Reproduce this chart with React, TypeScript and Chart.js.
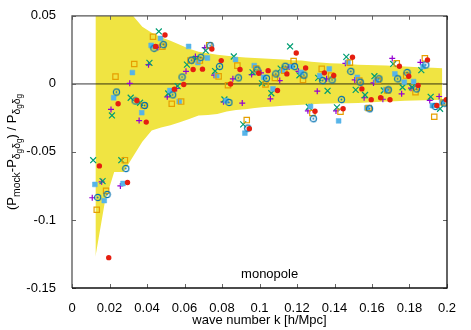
import React, { useEffect, useRef } from "react";
import { Chart, registerables } from "chart.js";

Chart.register(...registerables);

// k bins (h/Mpc)
const kBins = [
  0.0125, 0.0175, 0.0225, 0.0275, 0.0325, 0.0375, 0.0425, 0.0475, 0.0525, 0.0575,
  0.0625, 0.0675, 0.0725, 0.0775, 0.0825, 0.0875, 0.0925, 0.0975, 0.1025, 0.1075,
  0.1125, 0.1175, 0.1225, 0.1275, 0.1325, 0.1375, 0.1425, 0.1475, 0.1525, 0.1575,
  0.1625, 0.1675, 0.1725, 0.1775, 0.1825, 0.1875, 0.1925, 0.1975,
];

// small k shift of each mock series relative to the bins
const kShift = { purple: -0.0017, green: -0.0012, lightBlue: -0.0003, orange: 0.0007, circle: 0.0012, red: 0.0021 };

// band of the mock scatter
const bandUpper = [
  0.1, 0.085, 0.07, 0.058, 0.05, 0.042, 0.0376, 0.0343, 0.0317, 0.0288,
  0.0258, 0.0236, 0.0225, 0.0214, 0.0207, 0.02, 0.0194, 0.019, 0.0187, 0.0183,
  0.0178, 0.0174, 0.0171, 0.0163, 0.0156, 0.0152, 0.0149, 0.0145, 0.0141, 0.0139,
  0.0137, 0.0134, 0.0132, 0.0128, 0.0124, 0.0121, 0.0118, 0.0114,
];
const bandLower = [
  -0.127, -0.087, -0.0647, -0.0647, -0.0536, -0.0426, -0.0342, -0.032, -0.0305, -0.0283,
  -0.0258, -0.0232, -0.0228, -0.0221, -0.0203, -0.0193, -0.0186, -0.0177, -0.0171, -0.0166,
  -0.0161, -0.0157, -0.0153, -0.0149, -0.0146, -0.0144, -0.0143, -0.0142, -0.0141, -0.0137,
  -0.0133, -0.013, -0.0127, -0.0124, -0.0122, -0.0121, -0.0119, -0.0117,
];

// series values
const purpleVals = [
  -0.0837, -0.072, -0.0188, -0.075, 0.0004, -0.027, 0.0141, 0.0268, -0.0095, -0.0034,
  0.0092, 0.0201, 0.0266, 0.0064, -0.0132, 0.0037, -0.0141, 0.0068, 0.0081, -0.011,
  0.0024, 0.0123, 0.0092, -0.0198, -0.0054, 0.0037, -0.0199, 0.0151, 0.0029, -0.0102,
  0.0007, -0.0113, 0.0187, -0.0073, -0.0032, 0.0158, -0.0122, -0.0093,
];
const greenVals = [
  -0.0561, -0.0715, -0.0232, -0.0561, -0.0102, -0.0139, 0.0154, 0.0385, -0.0071, -0.0016,
  0.0141, 0.0185, 0.0244, 0.0094, -0.0115, 0.0201, -0.0298, 0.0085, 0.0004, -0.0069,
  0.0112, 0.0275, 0.0063, -0.017, 0.0044, -0.0051, -0.0173, 0.0198, -0.0044, -0.0082,
  0.0056, -0.0049, 0.0146, -0.0025, -0.0025, 0.0101, -0.0095, -0.0183,
];
const lightBlueVals = [
  -0.0739, -0.0858, -0.0102, -0.0732, 0.0083, -0.0212, 0.0283, 0.0334, -0.0049, -0.013,
  0.0275, 0.0156, 0.019, 0.0061, -0.0124, 0.0178, -0.0362, 0.0134, 0.0048, -0.0037,
  0.0097, 0.0129, 0.0085, -0.0166, 0.0061, 0.011, -0.0272, 0.0158, 0.0048, -0.0177,
  0.0024, -0.0042, 0.0073, 0.0012, 0.0017, 0.0127, -0.0159, -0.0135,
];
const orangeVals = [
  -0.0925, -0.0786, 0.0053, -0.0561, 0.0146, -0.0159, 0.0346, 0.0273, -0.0146, -0.013,
  0.0171, 0.0171, 0.0284, 0.0055, -0.001, 0.0134, -0.0266, 0.0112, -0.0005, 0.0044,
  0.0097, 0.0168, 0.0029, -0.0214, 0.011, 0.0061, -0.0205, 0.0156, 0.0024, -0.0177,
  0.0024, -0.0049, 0.0151, 0.0061, -0.0061, 0.0187, -0.0242, -0.0137,
];
const circleVals = [
  -0.0835, -0.0813, -0.006, -0.0622, -0.0126, -0.0159, 0.0262, 0.0288, -0.0081, 0.005,
  0.0174, 0.0195, 0.028, 0.0128, -0.0137, 0.0044, -0.0325, 0.0102, 0.0041, 0.0073,
  0.0129, 0.0127, 0.0064, -0.0256, 0.0024, 0.0029, -0.0115, 0.0092, 0.0012, -0.0183,
  0.0037, -0.0044, 0.0037, 0.0083, -0.0037, 0.0139, -0.0166, -0.0142,
];
const redVals = [
  -0.0603, -0.1277, -0.0146, -0.0725, -0.0122, -0.0281, 0.0275, 0.0359, -0.004, -0.0005,
  0.0105, 0.0108, 0.0256, 0.0171, -0.0001, 0.0105, -0.0329, 0.0078, 0.0097, -0.0049,
  0.0073, 0.0227, 0.0117, -0.0201, 0.0081, 0.0061, -0.0183, 0.0195, -0.0037, -0.0116,
  -0.0102, -0.0117, 0.0129, 0.0056, -0.0012, 0.0176, -0.0159, -0.0117,
];

const xTicks = [0, 0.02, 0.04, 0.06, 0.08, 0.1, 0.12, 0.14, 0.16, 0.18, 0.2];
const yTicks = [-0.15, -0.1, -0.05, 0, 0.05];

const FONT = '"Liberation Sans", Arial, Helvetica, sans-serif';

const fmt = (v: number) => String(Math.round(v * 100) / 100);

const pts = (vals: number[], shift: number) => vals.map((v, i) => ({ x: kBins[i] + shift, y: v }));

function makeCircleMarker(color: string) {
  const c = document.createElement("canvas");
  c.width = 9;
  c.height = 9;
  const g = c.getContext("2d")!;
  g.strokeStyle = color;
  g.lineWidth = 1.2;
  g.beginPath();
  g.arc(4.5, 4.5, 3.1, 0, Math.PI * 2);
  g.stroke();
  g.fillStyle = color;
  g.beginPath();
  g.arc(4.5, 4.5, 0.9, 0, Math.PI * 2);
  g.fill();
  return c;
}

const framePlugin = {
  id: "frame",
  afterDraw(chart: any) {
    const { ctx, chartArea: a, scales } = chart;
    ctx.save();
    // ticks
    ctx.strokeStyle = "#666";
    ctx.lineWidth = 1;
    ctx.beginPath();
    xTicks.forEach((v) => {
      const px = Math.round(scales.x.getPixelForValue(v)) + 0.5;
      ctx.moveTo(px, a.bottom);
      ctx.lineTo(px, a.bottom - 4);
      ctx.moveTo(px, a.top);
      ctx.lineTo(px, a.top + 4);
    });
    yTicks.forEach((v) => {
      const py = Math.round(scales.y.getPixelForValue(v)) + 0.5;
      ctx.moveTo(a.left, py);
      ctx.lineTo(a.left + 4, py);
      ctx.moveTo(a.right, py);
      ctx.lineTo(a.right - 4, py);
    });
    ctx.stroke();
    // border: top/left softer, right/bottom darker (as in the reference)
    ctx.lineWidth = 1.3;
    ctx.strokeStyle = "#555";
    ctx.beginPath();
    ctx.moveTo(a.left, a.bottom);
    ctx.lineTo(a.left, a.top);
    ctx.lineTo(a.right, a.top);
    ctx.stroke();
    ctx.strokeStyle = "#111";
    ctx.beginPath();
    ctx.moveTo(a.right, a.top);
    ctx.lineTo(a.right, a.bottom);
    ctx.lineTo(a.left, a.bottom);
    ctx.stroke();

    // inside label
    ctx.fillStyle = "#000";
    ctx.font = `13px ${FONT}`;
    ctx.textAlign = "center";
    ctx.textBaseline = "middle";
    ctx.fillText("monopole", a.left + 0.527 * (a.right - a.left), a.bottom - 14);

    // y title with subscripts
    const main = 13, sub = 10.4, sub2 = 8.3;
    const parts: { t: string; s: number; dy: number }[] = [
      { t: "(P", s: main, dy: 0 },
      { t: "mock", s: sub, dy: 3.5 },
      { t: "-P", s: main, dy: 0 },
      { t: "δ", s: sub, dy: 3.5 },
      { t: "g", s: sub2, dy: 6 },
      { t: "δ", s: sub, dy: 3.5 },
      { t: "g", s: sub2, dy: 6 },
      { t: ") / P", s: main, dy: 0 },
      { t: "δ", s: sub, dy: 3.5 },
      { t: "g", s: sub2, dy: 6 },
      { t: "δ", s: sub, dy: 3.5 },
      { t: "g", s: sub2, dy: 6 },
    ];
    let total = 0;
    const widths = parts.map((p) => {
      ctx.font = `${p.s}px ${FONT}`;
      const w = ctx.measureText(p.t).width;
      total += w;
      return w;
    });
    ctx.translate(16, (a.top + a.bottom) / 2);
    ctx.rotate(-Math.PI / 2);
    ctx.textAlign = "left";
    ctx.textBaseline = "alphabetic";
    let x = -total / 2;
    parts.forEach((p, i) => {
      ctx.font = `${p.s}px ${FONT}`;
      ctx.fillText(p.t, x, p.dy);
      x += widths[i];
    });
    ctx.restore();
  },
};

export default function App() {
  const ref = useRef<HTMLCanvasElement | null>(null);

  useEffect(() => {
    document.body.style.margin = "0";
    const canvas = ref.current!;
    const circleMarker = makeCircleMarker("#0072b2");

    const chart = new Chart(canvas, {
      type: "scatter",
      data: {
        datasets: [
          {
            label: "band upper",
            data: kBins.map((k, i) => ({ x: k, y: bandUpper[i] })),
            showLine: true,
            fill: "+1",
            backgroundColor: "#f0e442",
            borderColor: "rgba(0,0,0,0)",
            borderWidth: 0,
            pointRadius: 0,
            order: 20,
          } as any,
          {
            label: "band lower",
            data: kBins.map((k, i) => ({ x: k, y: bandLower[i] })),
            showLine: true,
            fill: false,
            borderColor: "rgba(0,0,0,0)",
            borderWidth: 0,
            pointRadius: 0,
            order: 19,
          } as any,
          {
            label: "zero",
            data: [
              { x: 0, y: 0 },
              { x: 0.2, y: 0 },
            ],
            showLine: true,
            borderColor: "rgba(0,0,0,0.45)",
            borderWidth: 1.6,
            pointRadius: 0,
            order: 18,
          } as any,
          {
            label: "purple",
            data: pts(purpleVals, kShift.purple),
            pointStyle: "cross",
            pointRadius: 3,
            borderColor: "#9400d3",
            borderWidth: 1.2,
            order: 7,
          } as any,
          {
            label: "green",
            data: pts(greenVals, kShift.green),
            pointStyle: "crossRot",
            pointRadius: 4.2,
            borderColor: "#009e73",
            borderWidth: 1.2,
            order: 6,
          } as any,
          {
            label: "lightblue",
            data: pts(lightBlueVals, kShift.lightBlue),
            pointStyle: "rect",
            pointRadius: 3.4,
            backgroundColor: "#56b4e9",
            borderColor: "#56b4e9",
            borderWidth: 0.5,
            order: 5,
          } as any,
          {
            label: "orange",
            data: pts(orangeVals, kShift.orange),
            pointStyle: "rect",
            pointRadius: 3.8,
            backgroundColor: "rgba(0,0,0,0)",
            borderColor: "#e69f00",
            borderWidth: 1.2,
            order: 4,
          } as any,
          {
            label: "circle",
            data: pts(circleVals, kShift.circle),
            pointStyle: circleMarker,
            pointRadius: 4,
            order: 3,
          } as any,
          {
            label: "red",
            data: pts(redVals, kShift.red),
            pointStyle: "circle",
            pointRadius: 2.7,
            backgroundColor: "#e51e10",
            borderColor: "#e51e10",
            borderWidth: 0,
            order: 2,
          } as any,
        ],
      },
      options: {
        animation: false,
        responsive: false,
        events: [],
        layout: { padding: { top: 15, right: 24, left: 0, bottom: 0 } },
        plugins: { legend: { display: false }, tooltip: { enabled: false } },
        scales: {
          x: {
            type: "linear",
            min: 0,
            max: 0.2,
            afterBuildTicks: (s: any) => {
              s.ticks = xTicks.map((v) => ({ value: v }));
            },
            afterFit: (s: any) => {
              s.height = 42;
            },
            grid: { display: false },
            border: { display: false },
            ticks: {
              autoSkip: false,
              maxRotation: 0,
              padding: 5,
              color: "#000",
              font: { family: FONT, size: 13 },
              callback: (v: any) => fmt(Number(v)),
            },
            title: {
              display: true,
              text: "wave number k [h/Mpc]",
              color: "#000",
              font: { family: FONT, size: 13 },
              padding: { top: 0, bottom: 2 },
            },
          },
          y: {
            type: "linear",
            min: -0.15,
            max: 0.05,
            afterBuildTicks: (s: any) => {
              s.ticks = yTicks.map((v) => ({ value: v }));
            },
            afterFit: (s: any) => {
              s.width = 72;
            },
            grid: { display: false },
            border: { display: false },
            ticks: {
              padding: 8,
              color: "#000",
              font: { family: FONT, size: 13 },
              callback: (v: any) => fmt(Number(v)),
            },
          },
        },
      } as any,
      plugins: [framePlugin],
    });
    return () => chart.destroy();
  }, []);

  return (
    <canvas ref={ref} width={471} height={330} style={{ display: "block", width: 471, height: 330 }} />
  );
}
